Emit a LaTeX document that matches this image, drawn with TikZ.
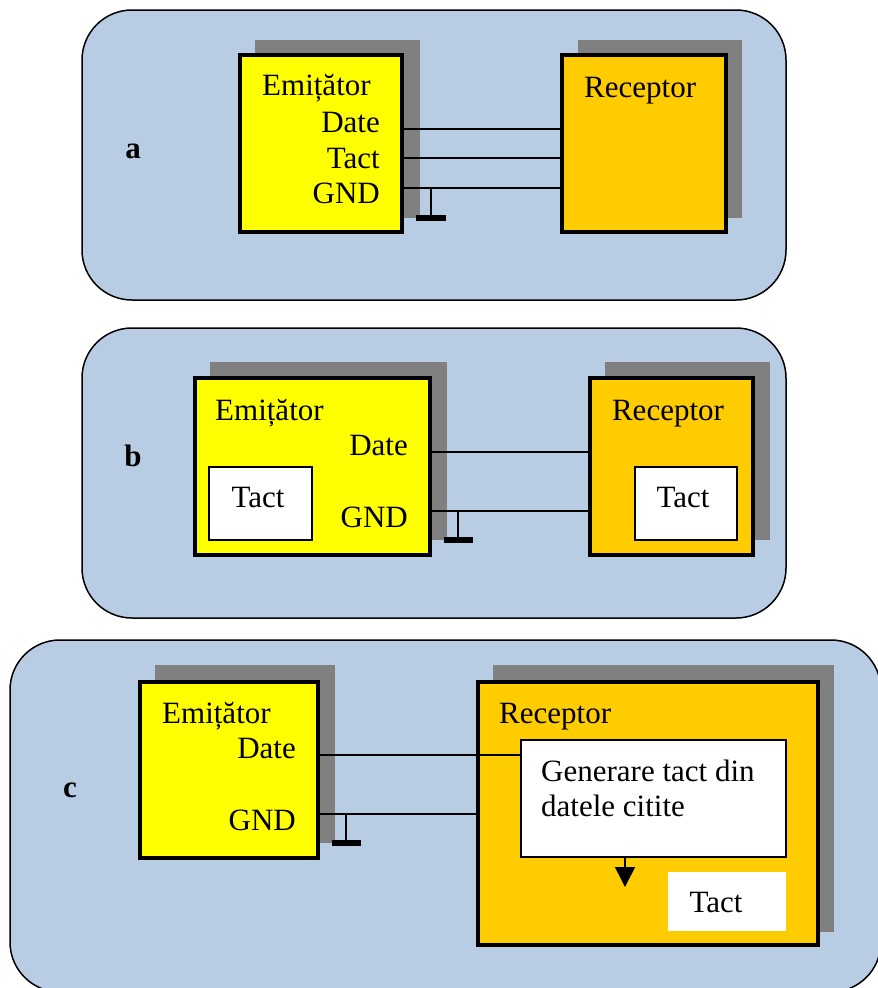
\documentclass[tikz,border=0pt]{standalone}
\usepackage{fontspec}
\setmainfont{Liberation Serif}
\usetikzlibrary{arrows.meta}
\definecolor{panelblue}{HTML}{B8CCE4}
\definecolor{emyellow}{HTML}{FFFF00}
\definecolor{recorange}{HTML}{FFCC00}
\definecolor{shadowgray}{HTML}{808080}
\begin{document}
\begin{tikzpicture}[x=1pt,y=-1pt,
  panel/.style={draw=black, line width=1.5pt, fill=panelblue, rounded corners=50pt},
  unit/.style={draw=black, line width=4pt, inner sep=0pt, outer sep=0pt, anchor=north west},
  emit/.style={unit, fill=emyellow},
  recv/.style={unit, fill=recorange},
  inner/.style={draw=black, line width=1.5pt, fill=white, inner sep=0pt, outer sep=0pt, anchor=north west},
  shade/.style={fill=shadowgray},
  txt/.style={inner sep=0pt, font=\fontsize{31}{37}\selectfont},
  tag/.style={inner sep=0pt, font=\fontsize{31}{37}\selectfont\bfseries},
  wire/.style={draw=black, line width=1.5pt},
  earth/.style={draw=black, line width=2pt},
  earthbar/.style={draw=black, line width=6pt},
]
\useasboundingbox (0,0) rectangle (878,988);
\clip (0,0) rectangle (878,988);

% ---------- panel a ----------
\draw[panel] (82,10) rectangle (786,300);
\fill[shade] (255,40) rectangle (420,218);
\fill[shade] (578,40) rectangle (742,218);
\node[emit, minimum width=162pt, minimum height=177pt] (ea) at (240,55) {};
\node[recv, minimum width=164pt, minimum height=177pt] (ra) at (562,55) {};
\node[tag, anchor=base] (la) at (133,158) {a};
\node[txt, anchor=base west] (ea-name) at (262,95) {Emițător};
\node[txt, anchor=base east] (ea-date) at (380,132) {Date};
\node[txt, anchor=base east] (ea-tact) at (380,168) {Tact};
\node[txt, anchor=base east] (ea-gnd) at (380,203) {GND};
\node[txt, anchor=base west] (ra-name) at (584,97) {Receptor};
\draw[wire] (ea.east |- 0,129) -- (ra.west |- 0,129);
\draw[wire] (ea.east |- 0,158) -- (ra.west |- 0,158);
\draw[wire] (ea.east |- 0,188) -- (ra.west |- 0,188);
\coordinate (ga) at (431,188);
\coordinate (gab) at (431,217.5);
\draw[earth] (ga) -- (gab);
\draw[earthbar] ([xshift=-15pt]gab) -- ([xshift=15pt]gab);

% ---------- panel b ----------
\draw[panel] (82,328) rectangle (786,618);
\fill[shade] (210,362) rectangle (447,540);
\fill[shade] (605,362) rectangle (770,540);
\node[emit, minimum width=235pt, minimum height=177pt] (eb) at (195,378) {};
\node[recv, minimum width=163pt, minimum height=177pt] (rb) at (590,378) {};
\node[inner, minimum width=103pt, minimum height=73pt] (tb1) at (209,467) {};
\node[inner, minimum width=102pt, minimum height=73pt] (tb2) at (635,467) {};
\node[tag, anchor=base] (lb) at (133,466) {b};
\node[txt, anchor=base west] (eb-name) at (215,420) {Emițător};
\node[txt, anchor=base east] (eb-date) at (408,455) {Date};
\node[txt, anchor=base east] (eb-gnd) at (408,527) {GND};
\node[txt, anchor=base] (rb-name) at (668,420) {Receptor};
\node[txt, anchor=base] (tb1-t) at (258,507) {Tact};
\node[txt, anchor=base] (tb2-t) at (683,507) {Tact};
\draw[wire] (eb.east |- 0,452) -- (rb.west |- 0,452);
\draw[wire] (eb.east |- 0,511) -- (rb.west |- 0,511);
\coordinate (gb) at (458,511);
\coordinate (gbb) at (458,540);
\draw[earth] (gb) -- (gbb);
\draw[earthbar] ([xshift=-14.5pt]gbb) -- ([xshift=14.5pt]gbb);

% ---------- panel c ----------
\draw[panel] (10,640) rectangle (881,992);
\fill[shade] (155,665) rectangle (335,843);
\fill[shade] (493,665) rectangle (834,932);
\node[emit, minimum width=178pt, minimum height=176pt] (ec) at (140,682) {};
\node[recv, minimum width=340pt, minimum height=263pt] (rc) at (478,682) {};
\node[inner, minimum width=265pt, minimum height=117pt] (gen) at (521,740) {};
\node[fill=white, inner sep=0pt, outer sep=0pt, anchor=north west,
      minimum width=118pt, minimum height=59pt] (tc) at (668,872) {};
\node[tag, anchor=base] (lc) at (70,797) {c};
\node[txt, anchor=base west] (ec-name) at (162,723) {Emițător};
\node[txt, anchor=base east] (ec-date) at (296,758) {Date};
\node[txt, anchor=base east] (ec-gnd) at (296,830) {GND};
\node[txt, anchor=base west] (rc-name) at (499,723) {Receptor};
\node[txt, anchor=base west] (gen-1) at (541,781) {Generare tact din};
\node[txt, anchor=base west] (gen-2) at (541,816) {datele citite};
\node[txt, anchor=base] (tc-t) at (716,912) {Tact};
\draw[wire] (ec.east |- 0,755) -- (gen.west |- 0,755);
\draw[wire] (ec.east |- 0,814) -- (rc.west |- 0,814);
\coordinate (gc) at (346,814);
\coordinate (gcb) at (346,843);
\draw[earth] (gc) -- (gcb);
\draw[earthbar] ([xshift=-14.5pt]gcb) -- ([xshift=14.5pt]gcb);
\coordinate (arrtip) at (625,887);
\draw[wire, -{Triangle[width=20pt,length=20pt]}] (gen.south -| arrtip) -- (arrtip);
\end{tikzpicture}
\end{document}
